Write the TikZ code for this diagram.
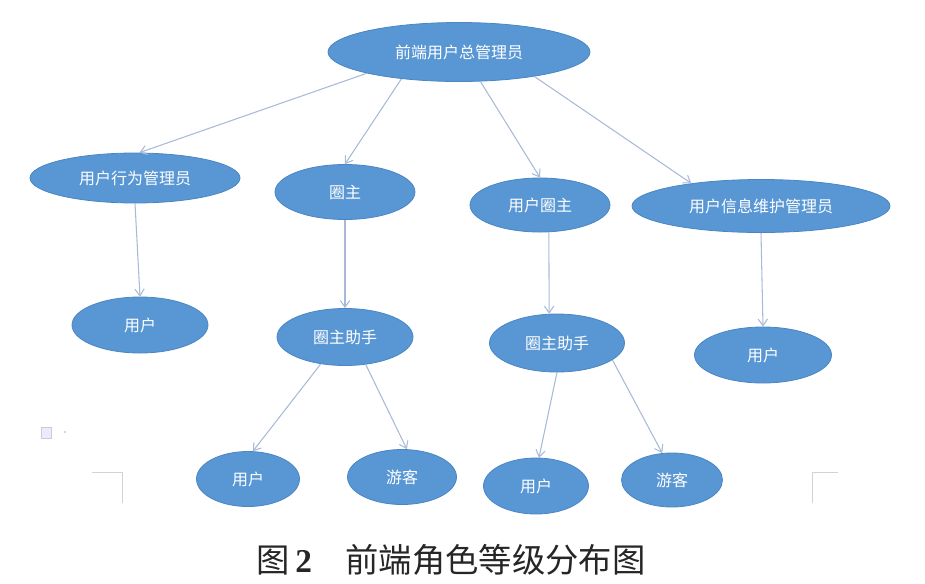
\documentclass[tikz,border=0pt]{standalone}
\usepackage{fontspec}
\newfontfamily\cjk{Noto Sans CJK SC}
\newfontfamily\capnum{Liberation Serif}
\usetikzlibrary{shapes.geometric,arrows.meta}
\definecolor{rolefill}{HTML}{5896D4}
\definecolor{roleline}{HTML}{4A86C3}
\definecolor{arrowcol}{HTML}{A9BAD9}
\begin{document}
\begin{tikzpicture}[
    x=0.75pt, y=-0.75pt,
    role/.style={ellipse, draw=roleline, line width=0.6pt, fill=rolefill, text=white, inner sep=0pt, font=\cjk\fontsize{12}{12}\selectfont},
    arrow/.style={-{Straight Barb[length=5pt,width=7pt]}, draw=arrowcol, line width=0.8pt}
]
\useasboundingbox (0,0) rectangle (925,583);

\node[role, minimum width=196.5pt, minimum height=44.25pt] (top) at (459,52) {前端用户总管理员};

\node[role, minimum width=157.5pt, minimum height=37.5pt] (behav) at (135,178) {用户行为管理员};
\node[role, minimum width=105pt, minimum height=41.25pt] (owner) at (345,192) {圈主};
\node[role, minimum width=105pt, minimum height=40.5pt] (uowner) at (540,205) {用户圈主};
\node[role, minimum width=193.5pt, minimum height=39.75pt] (info) at (761,206) {用户信息维护管理员};

\node[role, minimum width=102pt, minimum height=42pt] (u1) at (140,325) {用户};
\node[role, minimum width=102pt, minimum height=42.75pt] (help1) at (345,337) {圈主助手};
\node[role, minimum width=101.25pt, minimum height=43.5pt] (help2) at (557,343) {圈主助手};
\node[role, minimum width=102.75pt, minimum height=42pt] (u2) at (763,355) {用户};

\node[role, minimum width=77.25pt, minimum height=41.25pt] (u3) at (248,479) {用户};
\node[role, minimum width=81.75pt, minimum height=41.25pt] (g1) at (402,477) {游客};
\node[role, minimum width=78.75pt, minimum height=42pt] (u4) at (536,486) {用户};
\node[role, minimum width=75.75pt, minimum height=40.5pt] (g2) at (672,480) {游客};

\draw[arrow] (top.193) -- (behav.80);
\draw[arrow] (top.205) -- (owner.north);
\draw[arrow] (top.306) -- (uowner.north);
\draw[arrow] (top.342) -- (info.162);

\draw[arrow] (behav.south) -- (u1.north);
\draw[arrow] (owner.south) -- (help1.north);
\draw[arrow] (uowner.288) -- (help2.105);
\draw[arrow] (info.south) -- (u2.north);

\draw[arrow] (help1.228) -- (u3.80);
\draw[arrow] (help1.307) -- (g1.80);
\draw[arrow] (help2.south) -- (u4.84);
\draw[arrow] (help2.343) -- (g2.110);

% page marks
\draw[gray!35, line width=0.6pt] (92,472) -- (122,472) -- (122,503);
\draw[gray!35, line width=0.6pt] (838,472) -- (812,472) -- (812,503);
\draw[gray!40, fill=blue!8, line width=0.5pt] (41,427) rectangle (51,438);
\fill[gray!45] (65,432) circle (1.2);

\node[text=black!85, font=\cjk\fontsize{25}{25}\selectfont] (cap) at (451,560) {图\,{\capnum\bfseries 2}\quad 前端角色等级分布图};
\end{tikzpicture}
\end{document}
